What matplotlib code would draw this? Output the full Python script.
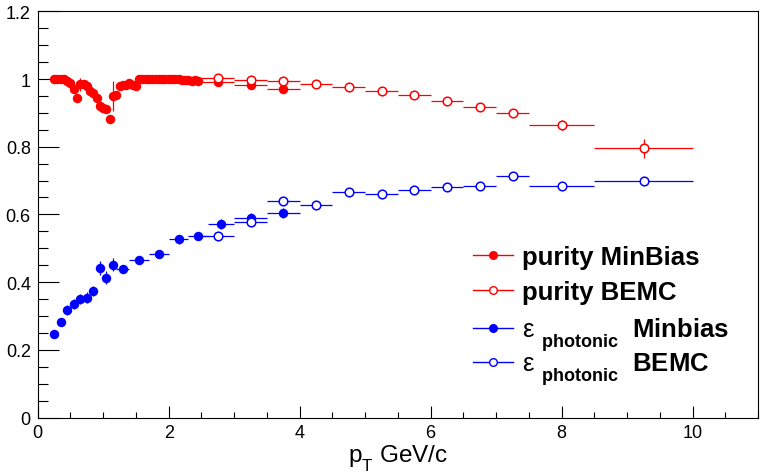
import matplotlib
matplotlib.use("Agg")
import matplotlib.pyplot as plt
from matplotlib.lines import Line2D
from matplotlib.ticker import MultipleLocator

try:
    import matplotlib._mathtext as _mt
    _mt.FontConstantsBase.sub1 = 0.75
except Exception:
    pass

plt.rcParams['font.family'] = ['Liberation Sans', 'DejaVu Sans']
plt.rcParams['mathtext.fontset'] = 'custom'
plt.rcParams['mathtext.rm'] = 'Liberation Sans'
plt.rcParams['mathtext.it'] = 'Liberation Sans:italic'
plt.rcParams['mathtext.bf'] = 'Liberation Sans:bold'

# ---------------- data ----------------
purity_mb_pt = [0.25, 0.30, 0.35, 0.40, 0.45, 0.50, 0.55, 0.60, 0.65, 0.70,
                0.75, 0.80, 0.85, 0.90, 0.95, 1.00, 1.05, 1.10, 1.15, 1.20,
                1.25, 1.30, 1.35, 1.40, 1.45, 1.50, 1.55, 1.60, 1.65, 1.70,
                1.75, 1.80, 1.85, 1.90, 1.95, 2.00, 2.05, 2.10, 2.15, 2.20,
                2.25, 2.30, 2.35, 2.40, 2.45, 2.75, 3.25, 3.75]
purity_mb_val = [1.000, 1.000, 1.000, 0.999, 0.995, 0.988, 0.970, 0.943, 0.984, 0.986,
                 0.978, 0.966, 0.960, 0.944, 0.921, 0.913, 0.911, 0.881, 0.950, 0.952,
                 0.979, 0.981, 0.982, 0.987, 0.981, 0.978, 1.000, 1.001, 1.001, 1.001,
                 1.001, 1.001, 1.000, 1.000, 1.000, 1.000, 1.000, 0.999, 0.999, 0.998,
                 0.996, 0.998, 0.995, 0.997, 0.993, 0.992, 0.982, 0.971]
purity_mb_yerr = [0.003, 0.003, 0.003, 0.003, 0.004, 0.005, 0.006, 0.012, 0.020, 0.006,
                  0.006, 0.006, 0.006, 0.007, 0.007, 0.007, 0.007, 0.008, 0.045, 0.008,
                  0.006, 0.006, 0.006, 0.006, 0.006, 0.006, 0.003, 0.003, 0.003, 0.003,
                  0.003, 0.003, 0.003, 0.003, 0.003, 0.003, 0.003, 0.003, 0.003, 0.003,
                  0.003, 0.003, 0.003, 0.003, 0.003, 0.004, 0.005, 0.006]
purity_mb_xerr = [0.025] * 45 + [0.25, 0.25, 0.25]

bemc_pt = [2.75, 3.25, 3.75, 4.25, 4.75, 5.25, 5.75, 6.25, 6.75, 7.25, 8.0, 9.25]
bemc_xerr = [0.25, 0.25, 0.25, 0.25, 0.25, 0.25, 0.25, 0.25, 0.25, 0.25, 0.5, 0.75]
purity_bemc_val = [1.003, 0.998, 0.993, 0.985, 0.976, 0.965, 0.953, 0.936, 0.918, 0.899, 0.864, 0.795]
purity_bemc_yerr = [0.003, 0.003, 0.003, 0.003, 0.004, 0.004, 0.004, 0.005, 0.005, 0.006, 0.016, 0.027]

eff_mb_pt = [0.25, 0.35, 0.45, 0.55, 0.65, 0.75, 0.85, 0.95, 1.05, 1.15,
             1.30, 1.55, 1.85, 2.15, 2.45, 2.80, 3.25, 3.75]
eff_mb_xerr = [0.05] * 10 + [0.10, 0.15, 0.15, 0.15, 0.15, 0.20, 0.25, 0.25]
eff_mb_val = [0.247, 0.283, 0.318, 0.336, 0.350, 0.354, 0.374, 0.442, 0.413, 0.452,
              0.438, 0.465, 0.483, 0.526, 0.536, 0.572, 0.590, 0.605]
eff_mb_yerr = [0.008, 0.012, 0.014, 0.014, 0.016, 0.016, 0.016, 0.020, 0.020, 0.020,
               0.012, 0.012, 0.010, 0.012, 0.012, 0.014, 0.015, 0.015]

eff_bemc_val = [0.537, 0.578, 0.639, 0.629, 0.665, 0.660, 0.673, 0.680, 0.685, 0.713, 0.685, 0.700]
eff_bemc_yerr = [0.005] * 12

labels = ["purity MinBias", "purity BEMC",
          r"$\mathrm{\varepsilon}_{\ \,\mathbf{photonic}}$  Minbias",
          r"$\mathrm{\varepsilon}_{\ \,\mathbf{photonic}}$  BEMC"]

# ---------------- figure ----------------
fig = plt.figure(figsize=(7.6, 4.77), dpi=100)
ax = fig.add_axes([0.0496, 0.1226, 0.948, 0.8516])

RED = '#ff0000'
BLUE = '#0000ff'
common = dict(ls='none', capsize=0, elinewidth=0.9)

ax.errorbar(purity_mb_pt, purity_mb_val, yerr=purity_mb_yerr, xerr=purity_mb_xerr,
            fmt='o', color=RED, ms=5.8, mec=RED, mfc=RED, **common)
ax.errorbar(bemc_pt, purity_bemc_val, yerr=purity_bemc_yerr, xerr=bemc_xerr,
            fmt='o', color=RED, ms=6.2, mec=RED, mfc='white', mew=1.1, **common)
ax.errorbar(eff_mb_pt, eff_mb_val, yerr=eff_mb_yerr, xerr=eff_mb_xerr,
            fmt='o', color=BLUE, ms=5.8, mec=BLUE, mfc=BLUE, **common)
ax.errorbar(bemc_pt, eff_bemc_val, yerr=eff_bemc_yerr, xerr=bemc_xerr,
            fmt='o', color=BLUE, ms=6.2, mec=BLUE, mfc='white', mew=1.1, **common)

ax.set_xlim(0, 11)
ax.set_ylim(0, 1.2)
ax.xaxis.set_major_locator(MultipleLocator(2))
ax.xaxis.set_minor_locator(MultipleLocator(0.5))
ax.yaxis.set_major_locator(MultipleLocator(0.2))
ax.yaxis.set_minor_locator(MultipleLocator(0.05))
ax.xaxis.set_major_formatter(plt.FuncFormatter(lambda v, p: f"{v:g}"))
ax.yaxis.set_major_formatter(plt.FuncFormatter(lambda v, p: f"{v:g}"))

ax.tick_params(axis='y', which='major', direction='in', length=15, width=0.8,
               labelsize=13, pad=5)
ax.tick_params(axis='y', which='minor', direction='in', length=7.5, width=0.8)
ax.tick_params(axis='x', which='major', direction='in', length=8.6, width=0.8,
               labelsize=13, pad=5)
ax.tick_params(axis='x', which='minor', direction='in', length=4.3, width=0.8)
for s in ax.spines.values():
    s.set_linewidth(0.8)

ax.set_xlabel(r"p$_{\mathrm{T}}$ GeV/c", fontsize=17.5, labelpad=0.5)

handles = [
    Line2D([], [], color=RED, lw=1, marker='o', ms=5.5, mfc=RED, mec=RED),
    Line2D([], [], color=RED, lw=1, marker='o', ms=5.5, mfc='white', mec=RED),
    Line2D([], [], color=BLUE, lw=1, marker='o', ms=5.5, mfc=BLUE, mec=BLUE),
    Line2D([], [], color=BLUE, lw=1, marker='o', ms=5.5, mfc='white', mec=BLUE),
]
# one legend entry per row, rows 35 px apart as in the reference
row_tops = [246, 281, 316, 351]
for h, lab, top in zip(handles, labels, row_tops):
    fig.legend([h], [lab], loc='upper left',
               bbox_to_anchor=(473 / 760, 1 - top / 477),
               frameon=False, handlelength=1.56, handletextpad=0.35,
               borderpad=0, borderaxespad=0,
               prop={'weight': 'bold', 'size': 18.5})

fig.savefig("out.png", dpi=100)
